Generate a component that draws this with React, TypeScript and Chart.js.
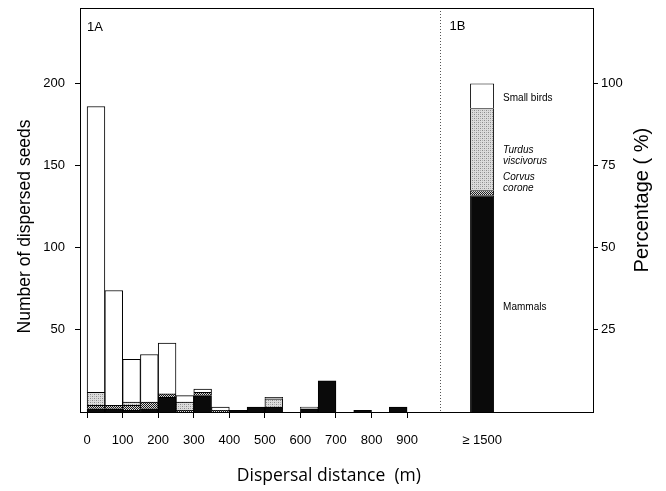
import React, { useEffect, useRef } from 'react';
import { Chart, registerables } from 'chart.js';

Chart.register(...registerables);

// ---- Data: Panel 1A (histogram, 50 m bins) ----
const BIN_STARTS = [0, 50, 100, 150, 200, 250, 300, 350, 400, 450, 500, 550, 600, 650, 700, 750, 800, 850];
const BIN_WIDTH = 50;
const MAMMALS_A = [2, 2, 1, 2, 9, 0, 10, 0, 1, 3, 3, 0, 2, 19, 0, 1, 0, 3];
const CORVUS_A = [2, 2, 3, 4, 2, 1, 2, 1, 0, 0, 0, 0, 0, 0, 0, 0, 0, 0];
const TURDUS_A = [8, 0, 2, 0, 0, 5, 0, 0, 0, 0, 5, 0, 0, 0, 0, 0, 0, 0];
const SMALL_BIRDS_A = [174, 70, 26, 29, 31, 4, 2, 2, 0, 0, 1, 0, 1, 0, 0, 0, 0, 0];

// ---- Data: Panel 1B (percentages, ≥ 1500 m) ----
const B_CATEGORY = '≥ 1500';
const MAMMALS_B = 66;
const CORVUS_B = 1.5;
const TURDUS_B = 25;
const SMALL_BIRDS_B = 7.5;

// ---- Tick labels ----
const X_TICKS = [0, 100, 200, 300, 400, 500, 600, 700, 800, 900];
const LEFT_TICKS = [50, 100, 150, 200];
const RIGHT_TICKS = [25, 50, 75, 100];

// ---- Titles ----
const X_TITLE = 'Dispersal distance  (m)';
const Y_TITLE = 'Number of dispersed seeds';
const Y2_TITLE = 'Percentage ( %)';

// ---- Layout constants (axis slots on the distance scale) ----
const X_MIN = -20;
const X_MAX = 1423;
const PANEL_DIVIDER = 993;
const B_SLOT = 1111;
const LEFT_MAX = 246;
const RIGHT_MAX = 123;

// Species annotations for panel 1B (position on the percentage axis)
const B_NOTES = [
  { text: 'Small birds', pct: 95.4, italic: false },
  { text: 'Turdus', pct: 79.6, italic: true },
  { text: 'viscivorus', pct: 76.3, italic: true },
  { text: 'Corvus', pct: 71.4, italic: true },
  { text: 'corone', pct: 68.1, italic: true },
  { text: 'Mammals', pct: 31.9, italic: false },
];

function makePattern(kind: 'dark' | 'light'): CanvasPattern | string {
  const c = document.createElement('canvas');
  const size = 4;
  c.width = size;
  c.height = size;
  const g = c.getContext('2d');
  if (!g) return kind === 'dark' ? '#777' : '#ccc';
  if (kind === 'dark') {
    g.fillStyle = '#d8d8d8';
    g.fillRect(0, 0, size, size);
    g.fillStyle = '#1a1a1a';
    for (let y = 0; y < size; y++) {
      for (let x = 0; x < size; x++) {
        if ((x + y) % 2 === 0) g.fillRect(x, y, 1, 1);
      }
    }
  } else {
    g.fillStyle = '#dcdcdc';
    g.fillRect(0, 0, size, size);
    g.fillStyle = '#8a8a8a';
    g.fillRect(0, 0, 1, 1);
    g.fillRect(2, 2, 1, 1);
    g.fillStyle = '#b0b0b0';
    g.fillRect(2, 0, 1, 1);
    g.fillRect(0, 2, 1, 1);
  }
  return g.createPattern(c, 'repeat') || (kind === 'dark' ? '#777' : '#ccc');
}

const framePlugin = {
  id: 'framePlugin',
  afterDatasetsDraw(chart: any) {
    const { ctx, chartArea } = chart;
    const xs = chart.scales.x;
    const ys = chart.scales.y;
    const ys2 = chart.scales.y2;
    ctx.save();
    // divider between panels
    const dx = Math.round(xs.getPixelForValue(PANEL_DIVIDER)) + 0.5;
    ctx.strokeStyle = '#555';
    ctx.lineWidth = 1;
    ctx.setLineDash([1, 2]);
    ctx.beginPath();
    ctx.moveTo(dx, chartArea.top);
    ctx.lineTo(dx, chartArea.bottom);
    ctx.stroke();
    ctx.setLineDash([]);
    // frame
    ctx.strokeStyle = '#000';
    ctx.strokeRect(chartArea.left + 0.5, chartArea.top + 0.5, chartArea.right - chartArea.left, chartArea.bottom - chartArea.top);
    // panel labels
    ctx.fillStyle = '#000';
    ctx.font = '13px "Liberation Sans", Arial, sans-serif';
    ctx.textBaseline = 'middle';
    ctx.textAlign = 'left';
    ctx.fillText('1A', chartArea.left + 7, chartArea.top + 19);
    ctx.fillText('1B', dx + 9, chartArea.top + 18);
    // species notes next to the 1B bar
    const meta = chart.getDatasetMeta(4);
    const bar = meta.data[0] as any;
    const bx = bar.x + bar.width / 2 + 9;
    for (const n of B_NOTES) {
      ctx.font = (n.italic ? 'italic ' : '') + '10px "Liberation Sans", Arial, sans-serif';
      ctx.fillText(n.text, bx, ys2.getPixelForValue(n.pct));
    }
    // axis titles
    ctx.textAlign = 'center';
    ctx.font = '17.5px "Open Sans", sans-serif';
    ctx.fillText(X_TITLE, xs.getPixelForValue(680), 476);
    ctx.font = '17.5px "Liberation Sans", Arial, sans-serif';
    ctx.save();
    ctx.translate(25, ys.getPixelForValue(113));
    ctx.rotate(-Math.PI / 2);
    ctx.fillText(Y_TITLE, 0, 0);
    ctx.restore();
    ctx.save();
    ctx.translate(642, ys2.getPixelForValue(64.5));
    ctx.rotate(-Math.PI / 2);
    ctx.font = '20px "Liberation Sans", Arial, sans-serif';
    ctx.fillText(Y2_TITLE, 0, 0);
    ctx.restore();
    ctx.restore();
  },
};

export default function App() {
  const ref = useRef<HTMLCanvasElement | null>(null);

  useEffect(() => {
    const canvas = ref.current;
    if (!canvas) return;
    const dark = makePattern('dark');
    const light = makePattern('light');

    const aSeries = [
      { label: 'Mammals', values: MAMMALS_A, fill: '#0a0a0a' },
      { label: 'Corvus corone', values: CORVUS_A, fill: dark },
      { label: 'Turdus viscivorus', values: TURDUS_A, fill: light },
      { label: 'Small birds', values: SMALL_BIRDS_A, fill: '#ffffff' },
    ];
    const bSeries = [
      { label: 'Mammals', value: MAMMALS_B, fill: '#0a0a0a' },
      { label: 'Corvus corone', value: CORVUS_B, fill: dark },
      { label: 'Turdus viscivorus', value: TURDUS_B, fill: light },
      { label: 'Small birds', value: SMALL_BIRDS_B, fill: '#ffffff' },
    ];

    const datasets: any[] = [
      ...aSeries.map((s) => ({
        type: 'bar',
        label: s.label + ' (1A)',
        data: BIN_STARTS.map((b, i) => ({ x: b + BIN_WIDTH / 2, y: s.values[i] })),
        backgroundColor: s.fill,
        borderColor: '#000',
        borderWidth: 1,
        borderSkipped: 'start',
        stack: 'A',
        xAxisID: 'x',
        yAxisID: 'y',
        grouped: false,
        barPercentage: 1,
        categoryPercentage: 1,
      })),
      ...bSeries.map((s) => ({
        type: 'bar',
        label: s.label + ' (1B)',
        data: [{ x: B_SLOT, y: s.value }],
        backgroundColor: s.fill,
        borderColor: '#000',
        borderWidth: 1,
        borderSkipped: 'start',
        stack: 'B',
        xAxisID: 'x',
        yAxisID: 'y2',
        grouped: false,
        barPercentage: 1.35,
        categoryPercentage: 1,
      })),
    ];

    const tickFont = { family: '"Liberation Sans", Arial, sans-serif', size: 13 };

    const chart = new Chart(canvas, {
      type: 'bar',
      data: { datasets },
      plugins: [framePlugin],
      options: {
        animation: false,
        responsive: false,
        events: [],
        layout: { padding: { top: 8, left: 0, right: 0, bottom: 0 } },
        plugins: { legend: { display: false }, tooltip: { enabled: false } },
        scales: {
          x: {
            type: 'linear',
            position: 'bottom',
            offset: false,
            min: X_MIN,
            max: X_MAX,
            afterBuildTicks: (s: any) => {
              s.ticks = [...X_TICKS, B_SLOT].map((v) => ({ value: v }));
            },
            afterFit: (s: any) => {
              s.height = 79;
              s.paddingLeft = 0;
              s.paddingRight = 0;
            },
            ticks: {
              autoSkip: false,
              maxRotation: 0,
              padding: 15,
              color: '#000',
              font: tickFont,
              callback: (v: any) => (v === B_SLOT ? B_CATEGORY : String(v)),
            },
            grid: {
              offset: false,
              drawOnChartArea: false,
              drawTicks: true,
              tickLength: 6,
              tickColor: (c: any) => (c.tick && c.tick.value === B_SLOT ? 'rgba(0,0,0,0)' : '#000'),
            },
            border: { display: false },
          },
          y: {
            type: 'linear',
            position: 'left',
            stacked: true,
            min: 0,
            max: LEFT_MAX,
            afterBuildTicks: (s: any) => {
              s.ticks = LEFT_TICKS.map((v) => ({ value: v }));
            },
            afterFit: (s: any) => {
              s.width = 80;
              s.paddingTop = 0;
              s.paddingBottom = 0;
            },
            ticks: { padding: 10, color: '#000', font: tickFont },
            grid: { drawOnChartArea: false, drawTicks: true, tickLength: 5, tickColor: '#000' },
            border: { display: false },
          },
          y2: {
            type: 'linear',
            position: 'right',
            stacked: true,
            min: 0,
            max: RIGHT_MAX,
            afterBuildTicks: (s: any) => {
              s.ticks = RIGHT_TICKS.map((v) => ({ value: v }));
            },
            afterFit: (s: any) => {
              s.width = 73;
              s.paddingTop = 0;
              s.paddingBottom = 0;
            },
            ticks: { padding: 3, color: '#000', font: tickFont },
            grid: { drawOnChartArea: false, drawTicks: true, tickLength: 5, tickColor: '#000' },
            border: { display: false },
          },
        },
      },
    } as any);

    return () => {
      chart.destroy();
    };
  }, []);

  return (
    <div style={{ position: 'absolute', left: 0, top: 0, width: 666, height: 491, background: '#fff' }}>
      <canvas ref={ref} width={666} height={491} style={{ display: 'block' }} />
    </div>
  );
}
